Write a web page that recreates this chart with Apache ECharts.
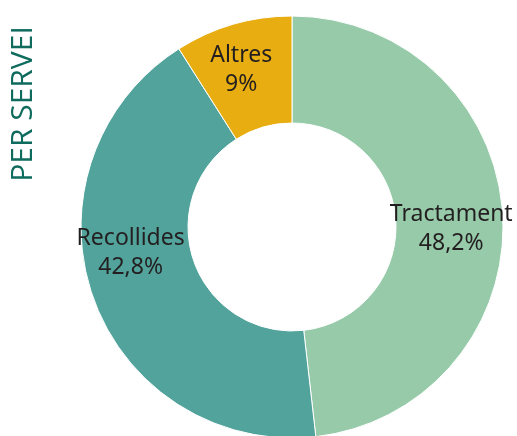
<!DOCTYPE html>
<html>
<head>
<meta charset="utf-8">
<script src="https://cdn.jsdelivr.net/npm/echarts@6/dist/echarts.min.js"></script>
<style>
  html, body { margin: 0; padding: 0; background: #fff; }
  #chart { width: 517px; height: 436px; }
</style>
</head>
<body>
<div id="chart"></div>
<script>
// dades
const categories = ["Tractament", "Recollides", "Altres"];
const values = [48.2, 42.8, 9];
const valueLabels = ["48,2%", "42,8%", "9%"];
const colors = ["#96caa9", "#52a39b", "#e8ae11"];
// petits ajustos de posició de les etiquetes
const labelShift = [[-1, 11], [-10, -27], [-6, -3]];

const chart = echarts.init(document.getElementById("chart"));

const option = {
  animation: false,
  graphic: [{
    type: "text",
    rotation: Math.PI / 2,
    style: {
      text: "PER SERVEI",
      fill: "#0e6b5e",
      font: "30px 'Open Sans'",
      align: "center",
      verticalAlign: "middle"
    },
    x: 23,
    y: 104
  }],
  series: [{
    type: "pie",
    center: [292, 227],
    radius: [104, 211],
    startAngle: 90,
    clockwise: true,
    avoidLabelOverlap: false,
    itemStyle: { borderColor: "#fff", borderWidth: 1 },
    label: {
      show: true,
      position: "inside",
      color: "#231f20",
      fontSize: 23,
      lineHeight: 29,
      fontFamily: "'Noto Sans'",
      formatter: p => p.name + "\n" + valueLabels[p.dataIndex]
    },
    labelLayout: p => ({ dx: labelShift[p.dataIndex][0], dy: labelShift[p.dataIndex][1] }),
    data: categories.map((c, i) => ({ name: c, value: values[i], itemStyle: { color: colors[i] } }))
  }]
};

chart.setOption(option);
</script>
</body>
</html>
